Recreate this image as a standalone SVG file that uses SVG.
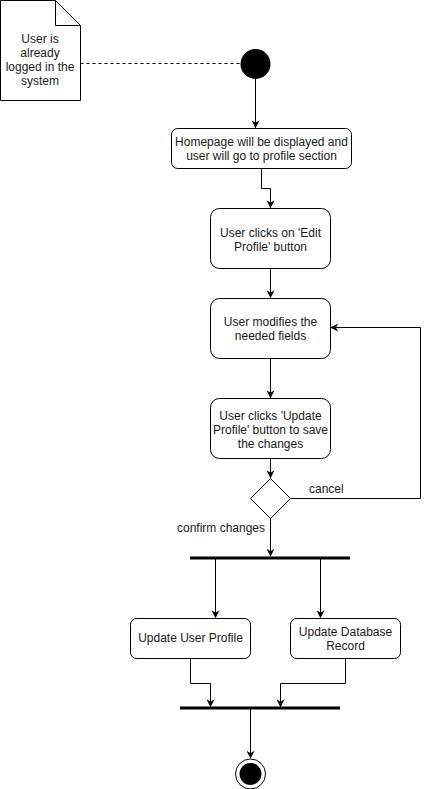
<svg xmlns="http://www.w3.org/2000/svg" width="429" height="789" viewBox="0 0 429 789">
<style>
.box{fill:#fff;stroke:#000;stroke-width:1}
.t{font-family:"Liberation Sans",Arial,sans-serif;font-size:12px;fill:#1a1a1a;text-anchor:middle}
.l{font-family:"Liberation Sans",Arial,sans-serif;font-size:12px;fill:#1a1a1a}
.e{fill:none;stroke:#000;stroke-width:1}
</style>
<defs>
<marker id="a" viewBox="0 0 10 10" refX="9" refY="5" markerWidth="8" markerHeight="8" orient="auto" markerUnits="userSpaceOnUse">
<path d="M0,0 L10,5 L0,10 L3,5 z" fill="#000"/>
</marker>
</defs>
<rect width="429" height="789" fill="#fff"/>
<g id="connectors">
<path class="e" d="M80.5,63.5 L240,63.5" stroke-dasharray="3,3"/>
<path class="e" d="M255.5,79 L255.5,127.5" marker-end="url(#a)"/>
<path class="e" d="M261.5,168 L261.5,188.5 L270.5,188.5 L270.5,207.5" marker-end="url(#a)"/>
<path class="e" d="M270.5,268 L270.5,297.5" marker-end="url(#a)"/>
<path class="e" d="M270.5,358 L270.5,397.5" marker-end="url(#a)"/>
<path class="e" d="M270.5,458 L270.5,477.5" marker-end="url(#a)"/>
<path class="e" d="M290.5,498.5 L420.5,498.5 L420.5,327.5 L331,327.5" marker-end="url(#a)"/>
<path class="e" d="M270.5,518 L270.5,556" marker-end="url(#a)"/>
<path class="e" d="M215.5,559 L215.5,617.5" marker-end="url(#a)"/>
<path class="e" d="M320.5,559 L320.5,617.5" marker-end="url(#a)"/>
<path class="e" d="M190.5,658 L190.5,683.5 L210.5,683.5 L210.5,706.5" marker-end="url(#a)"/>
<path class="e" d="M345.5,658 L345.5,683.5 L280.5,683.5 L280.5,706.5" marker-end="url(#a)"/>
<path class="e" d="M250.5,709 L250.5,758" marker-end="url(#a)"/>
<text class="l" x="309" y="493">cancel</text>
<text class="l" x="177" y="532">confirm changes</text>
</g>
<g id="note">
<path d="M0.5,0.5 L55.5,0.5 L80.5,25.5 L80.5,100.5 L0.5,100.5 Z" class="box"/>
<path d="M55.5,0.5 L55.5,25.5 L80.5,25.5" class="e"/>
<text class="t" x="40" y="43">User is</text>
<text class="t" x="40" y="57">already</text>
<text class="t" x="40" y="71">logged in the</text>
<text class="t" x="40" y="85">system</text>
</g>
<g id="start"><circle cx="255.5" cy="64" r="15" fill="#000"/></g>
<g id="homepage">
<rect class="box" x="171.5" y="128.5" width="180" height="40" rx="6"/>
<text class="t" x="261.5" y="146">Homepage will be displayed and</text>
<text class="t" x="261.5" y="160">user will go to profile section</text>
</g>
<g id="edit">
<rect class="box" x="210.5" y="208.5" width="120" height="60" rx="9"/>
<text class="t" x="270.5" y="237">User clicks on 'Edit</text>
<text class="t" x="270.5" y="251">Profile' button</text>
</g>
<g id="modify">
<rect class="box" x="210.5" y="298.5" width="120" height="60" rx="9"/>
<text class="t" x="270.5" y="326">User modifies the</text>
<text class="t" x="270.5" y="340">needed fields</text>
</g>
<g id="updatebtn">
<rect class="box" x="210.5" y="398.5" width="120" height="60" rx="9"/>
<text class="t" x="270.5" y="420">User clicks 'Update</text>
<text class="t" x="270.5" y="434">Profile' button to save</text>
<text class="t" x="270.5" y="448">the changes</text>
</g>
<g id="decision"><path class="box" d="M270.5,478.5 L290.5,498.5 L270.5,518.5 L250.5,498.5 Z"/></g>
<g id="fork"><rect x="190" y="556.5" width="160" height="3" fill="#000"/></g>
<g id="updprofile">
<rect class="box" x="130.5" y="618.5" width="120" height="40" rx="6"/>
<text class="t" x="190.5" y="642">Update User Profile</text>
</g>
<g id="upddb">
<rect class="box" x="290.5" y="618.5" width="110" height="40" rx="6"/>
<text class="t" x="345.5" y="636">Update Database</text>
<text class="t" x="345.5" y="650">Record</text>
</g>
<g id="join"><rect x="180" y="706.5" width="160" height="3" fill="#000"/></g>
<g id="end">
<circle cx="250.5" cy="774" r="15" fill="#fff" stroke="#000" stroke-width="1"/>
<circle cx="250.5" cy="774" r="11" fill="#000"/>
</g>
</svg>
